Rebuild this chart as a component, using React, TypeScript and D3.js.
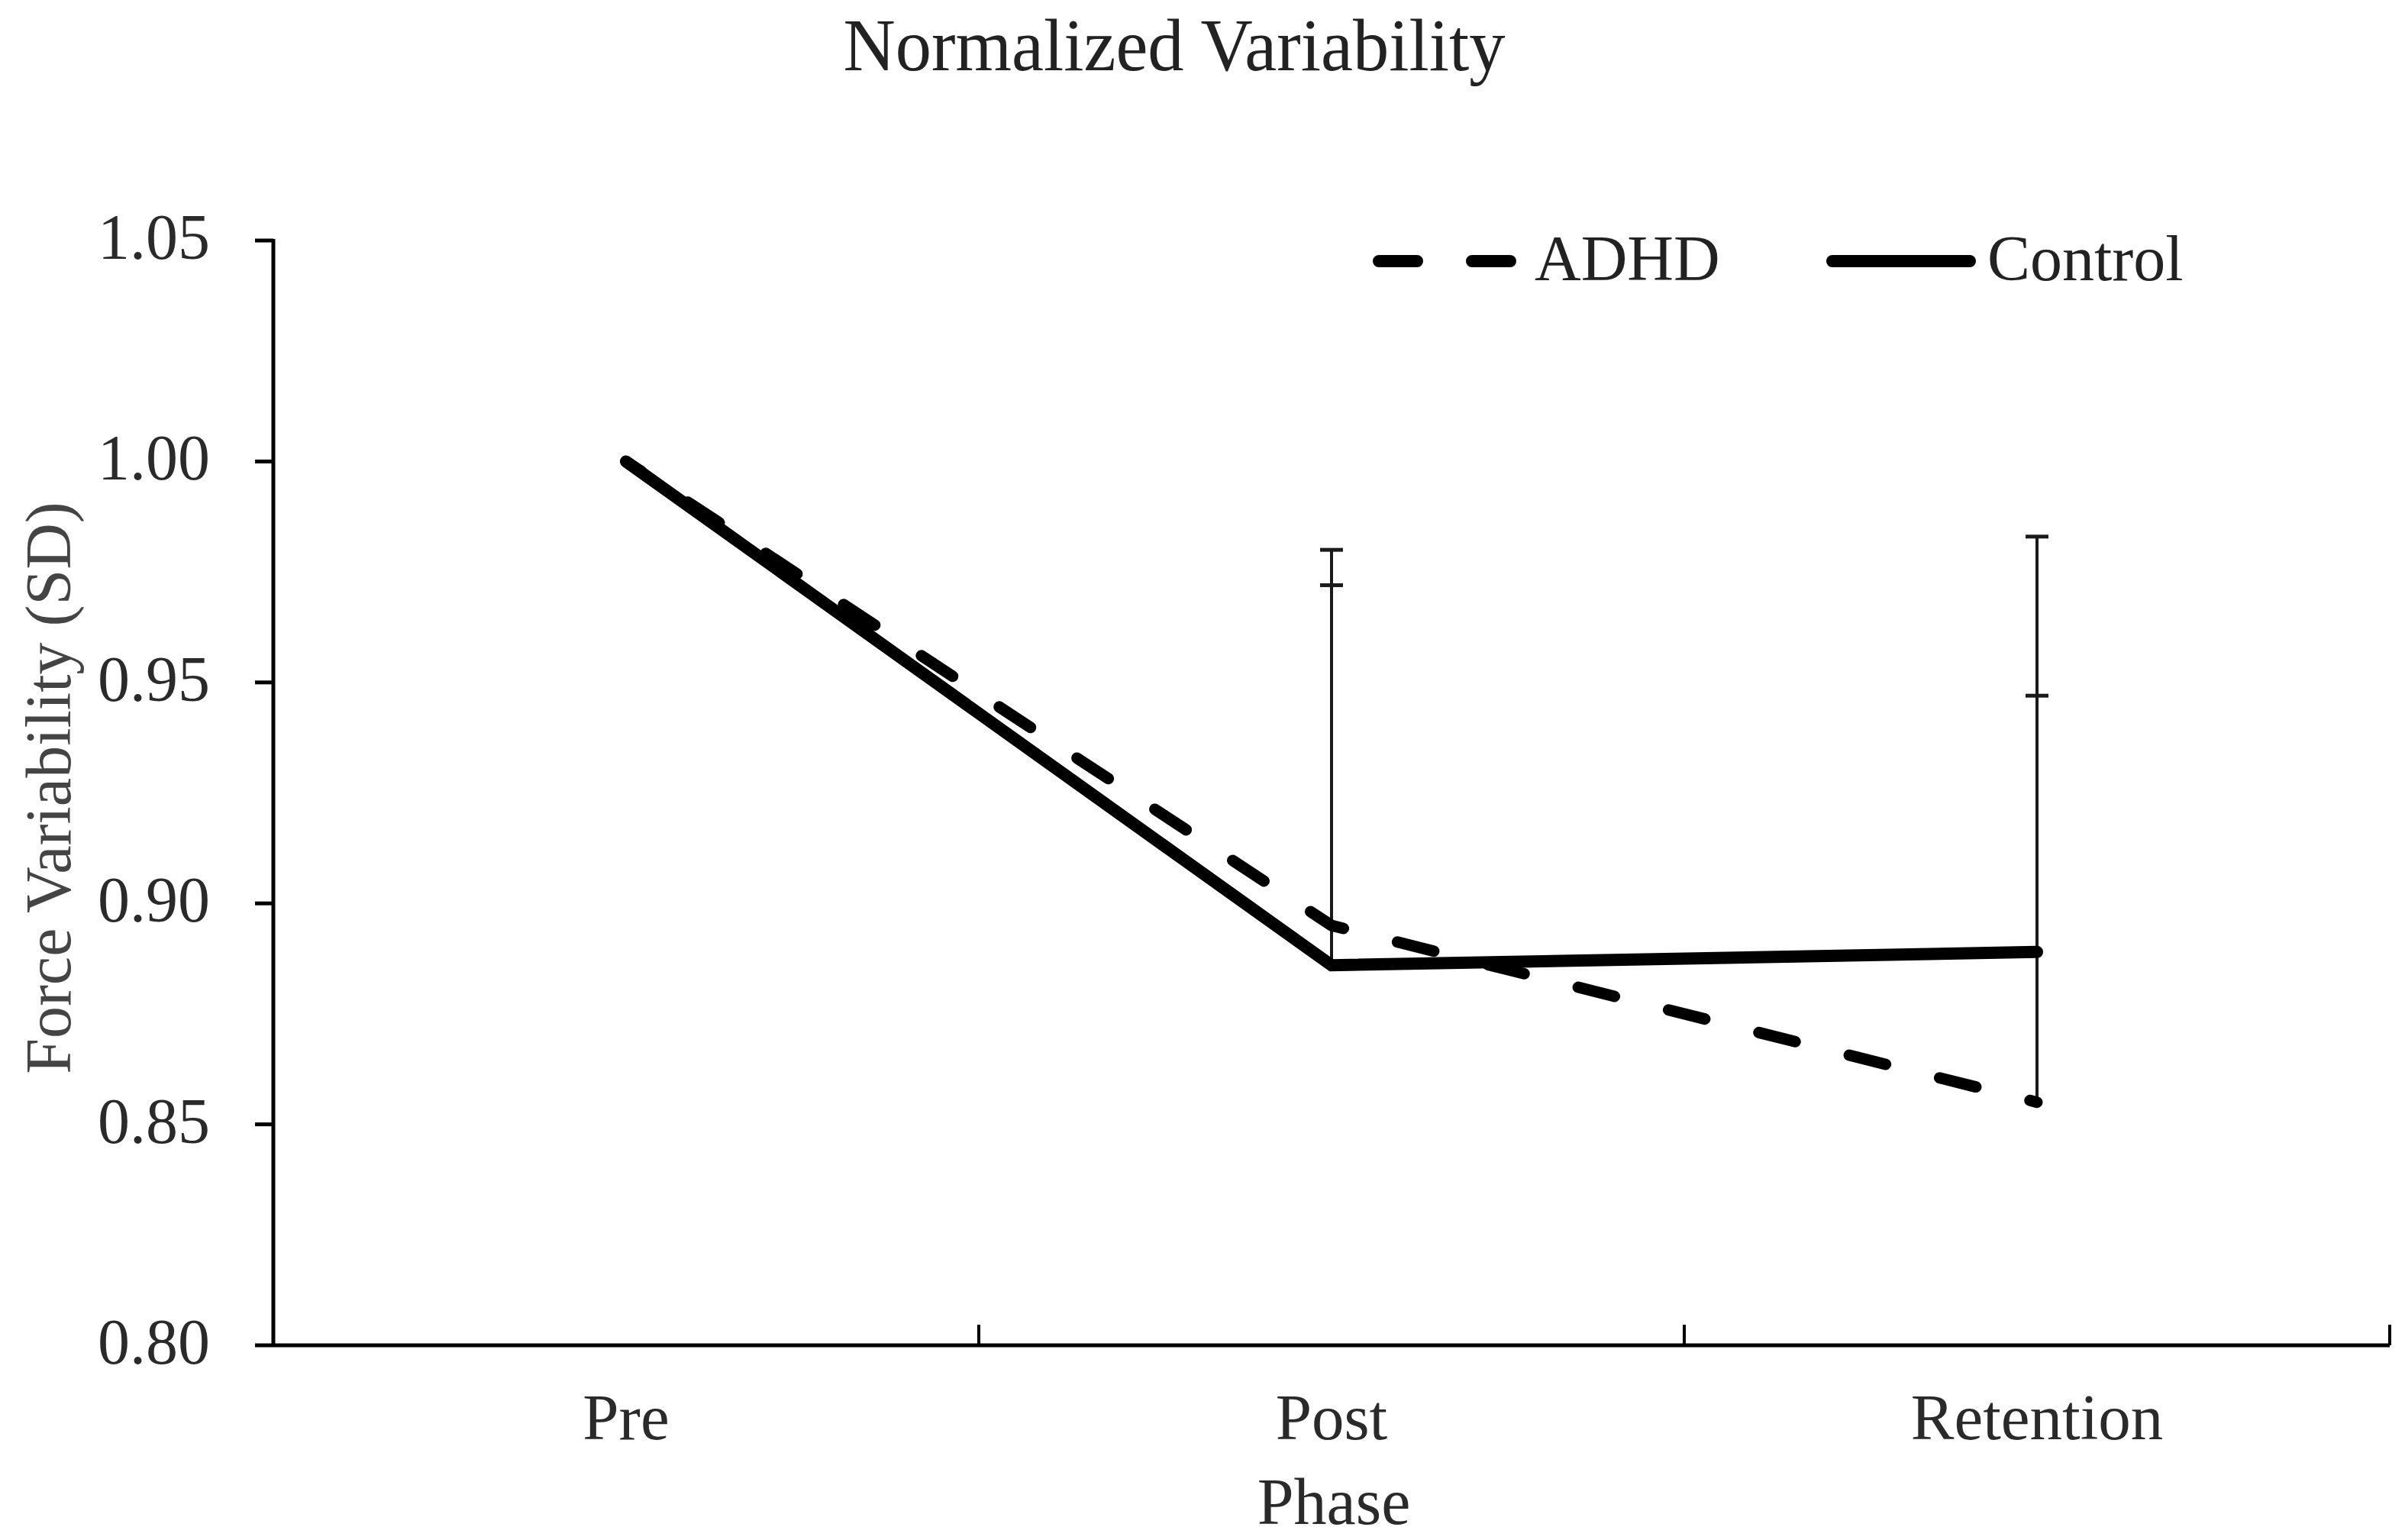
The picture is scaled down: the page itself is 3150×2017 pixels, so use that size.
import React from 'react';
import * as d3 from 'd3';

const categories = ['Pre', 'Post', 'Retention'];
const adhdValues = [1.0, 0.895, 0.855];
const controlValues = [1.0, 0.886, 0.889];
const adhdErrors = [0, 0.077, 0.128];
const controlErrors = [0, 0.094, 0.058];
const yTicks = [0.8, 0.85, 0.9, 0.95, 1.0, 1.05];
const seriesNames = ['ADHD', 'Control'];
const titleText = 'Normalized Variability';
const xTitle = 'Phase';
const yTitle = 'Force Variability (SD)';

const W = 3150;
const H = 2017;
const FONT = '"Liberation Serif", "DejaVu Serif", serif';

export default function App() {
  const left = 358;
  const right = 3130;
  const top = 315;
  const bottom = 1762;

  const x = d3.scaleBand<string>().domain(categories).range([left, right]).padding(0);
  const cx = (c: string) => (x(c) as number) + x.bandwidth() / 2;
  const y = d3.scaleLinear().domain([0.8, 1.05]).range([bottom, top]);

  const line = d3
    .line<number>()
    .x((_, i) => cx(categories[i]))
    .y((d) => y(d));

  const errBars = [
    { vals: controlValues, errs: controlErrors },
    { vals: adhdValues, errs: adhdErrors },
  ];

  const xBoundaries = categories.map((c) => (x(c) as number) + x.bandwidth());

  return (
    <svg
      width={W}
      height={H}
      viewBox={`0 0 ${W} ${H}`}
      style={{ position: 'absolute', left: 0, top: 0, display: 'block', background: '#fff' }}
    >
      <rect x={0} y={0} width={W} height={H} fill="#fff" />
      {/* Title */}
      <text
        x={1538}
        y={92}
        textAnchor="middle"
        fontFamily={FONT}
        fontSize={97}
        fill="#222"
        textLength={867}
        lengthAdjust="spacingAndGlyphs"
      >
        {titleText}
      </text>

      {/* Y axis */}
      <line x1={left} y1={top - 2} x2={left} y2={bottom + 2} stroke="#000" strokeWidth={5} />
      {yTicks.map((t) => (
        <g key={t}>
          <line x1={left - 24} x2={left} y1={y(t)} y2={y(t)} stroke="#000" strokeWidth={5} />
          <text
            x={275}
            y={y(t)}
            dy={24}
            textAnchor="end"
            fontFamily={FONT}
            fontSize={84}
            fill="#2a2a2a"
          >
            {d3.format('.2f')(t)}
          </text>
        </g>
      ))}

      {/* X axis */}
      <line x1={left} y1={bottom} x2={right} y2={bottom} stroke="#000" strokeWidth={5} />
      {xBoundaries.map((bx, i) => (
        <line key={i} x1={bx} x2={bx} y1={bottom} y2={bottom - 27} stroke="#000" strokeWidth={4} />
      ))}
      {categories.map((c) => (
        <text key={c} x={cx(c)} y={1885} textAnchor="middle" fontFamily={FONT} fontSize={85} fill="#2a2a2a">
          {c}
        </text>
      ))}
      <text x={1747} y={1996} textAnchor="middle" fontFamily={FONT} fontSize={86} fill="#2a2a2a">
        {xTitle}
      </text>
      <text
        transform={`translate(92, 1032) rotate(-90)`}
        textAnchor="middle"
        fontFamily={FONT}
        fontSize={84}
        fill="#444"
      >
        {yTitle}
      </text>

      {/* Error bars (upper only) */}
      {errBars.map((s, si) =>
        categories.map((c, i) =>
          s.errs[i] > 0 ? (
            <g key={`${si}-${c}`}>
              <line
                x1={cx(c)}
                x2={cx(c)}
                y1={y(s.vals[i])}
                y2={y(s.vals[i] + s.errs[i])}
                stroke="#1a1a1a"
                strokeWidth={4}
              />
              <line
                x1={cx(c) - 15}
                x2={cx(c) + 15}
                y1={y(s.vals[i] + s.errs[i])}
                y2={y(s.vals[i] + s.errs[i])}
                stroke="#1a1a1a"
                strokeWidth={5}
              />
            </g>
          ) : null
        )
      )}

      {/* Control solid line */}
      <path
        d={line(controlValues) || ''}
        fill="none"
        stroke="#000"
        strokeWidth={16}
        strokeLinejoin="miter"
        strokeLinecap="round"
      />
      {/* ADHD dashed line */}
      <path
        d={line(adhdValues) || ''}
        fill="none"
        stroke="#000"
        strokeWidth={15}
        strokeDasharray="49 73"
        strokeDashoffset={25}
        strokeLinecap="round"
        strokeLinejoin="round"
      />

      {/* Legend */}
      <line
        x1={1806}
        x2={1978}
        y1={342}
        y2={342}
        stroke="#000"
        strokeWidth={16}
        strokeDasharray="50 72"
        strokeLinecap="round"
      />
      <text x={2010} y={367} fontFamily={FONT} fontSize={84} fill="#222">
        {seriesNames[0]}
      </text>
      <line x1={2400} x2={2580} y1={342} y2={342} stroke="#000" strokeWidth={16} strokeLinecap="round" />
      <text x={2603} y={367} fontFamily={FONT} fontSize={84} fill="#222">
        {seriesNames[1]}
      </text>
    </svg>
  );
}
